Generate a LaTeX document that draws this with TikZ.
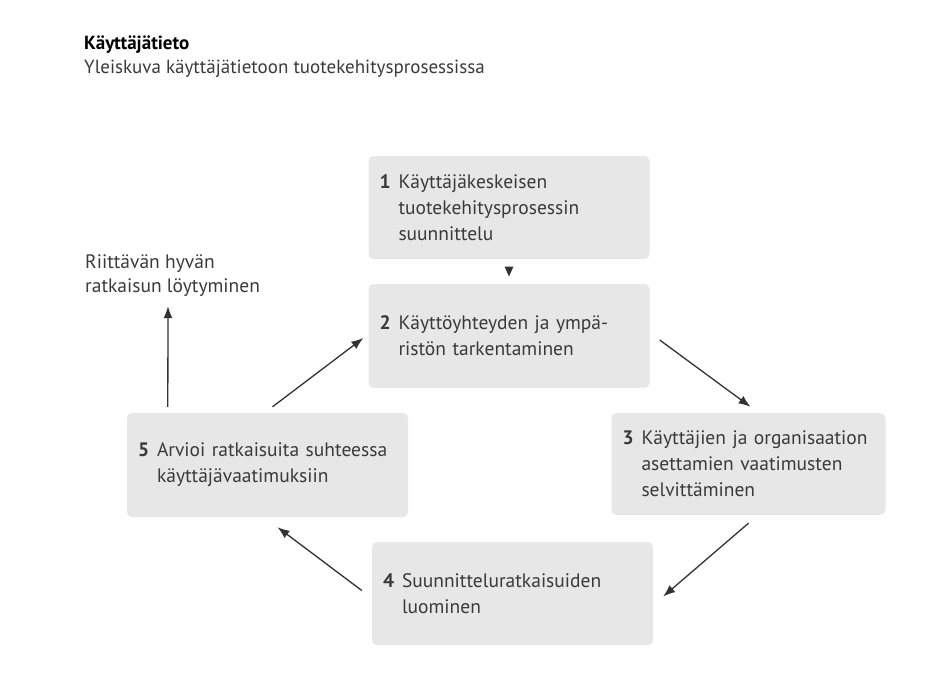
\documentclass[tikz,border=0pt]{standalone}
\usepackage{fontspec}
\setmainfont{PT Sans}
\usepackage{xcolor}
\usetikzlibrary{arrows.meta}
\definecolor{boxgray}{RGB}{231,231,231}
\definecolor{inkgray}{RGB}{58,58,58}
\definecolor{arrowgray}{RGB}{50,50,50}
\newcommand{\numw}{19pt}
\newcommand{\stepno}[1]{\makebox[\numw][l]{\bfseries #1}}

\begin{document}
\begin{tikzpicture}[x=1pt,y=-1pt,line join=round,
    phase/.style={fill=boxgray,rounded corners=5pt,text=inkgray,align=left,
      inner xsep=11pt,inner ysep=0pt,text width=259pt,minimum height=103pt,
      font=\fontsize{19.5}{26}\selectfont},
    flow/.style={draw=arrowgray,line width=1.3pt,-{Latex[length=12pt,width=9pt]}}]
  \path[use as bounding box] (0,0) rectangle (934,680);

  % heading
  \node[anchor=base west,inner sep=0pt,text=black,font=\fontsize{19}{22}\selectfont\bfseries]
    (title) at (84,49) {Käyttäjätieto};
  \node[anchor=base west,inner sep=0pt,text=inkgray,font=\fontsize{19}{22}\selectfont]
    (subtitle) at (84,73) {Yleiskuva käyttäjätietoon tuotekehitysprosessissa};

  % the five phases
  \node[phase] (b1) at (509,207.5)
    {\stepno{1}Käyttäjäkeskeisen\\\hspace*{\numw}tuotekehitysprosessin\\\hspace*{\numw}suunnittelu};
  \node[phase,minimum height=104pt] (b2) at (509,336)
    {\stepno{2}Käyttöyhteyden ja ympä-\\\hspace*{\numw}ristön tarkentaminen};
  \node[phase,text width=252pt,minimum height=102pt] (b3) at (748.5,464)
    {\stepno{3}Käyttäjien ja organisaation\\\hspace*{\numw}asettamien vaatimusten\\\hspace*{\numw}selvittäminen};
  \node[phase] (b4) at (512.5,593.5)
    {\stepno{4}Suunnitteluratkaisuiden\\\hspace*{\numw}luominen};
  \node[phase,minimum height=104pt] (b5) at (267.5,465)
    {\stepno{5}Arvioi ratkaisuita suhteessa\\\hspace*{\numw}käyttäjävaatimuksiin};

  \node[anchor=north west,inner sep=0pt,align=left,text=inkgray,
    font=\fontsize{19.5}{24}\selectfont] (goal) at (85,254)
    {Riittävän hyvän\\ratkaisun löytyminen};

  % connectors
  \path (b1.south) -- (b2.north) coordinate[midway] (m12);
  \fill[arrowgray] ([xshift=-4.5pt,yshift=5pt]m12) -- ([xshift=4.5pt,yshift=5pt]m12)
    -- ([yshift=-5pt]m12) -- cycle;
  \draw[flow] ([xshift=10pt,yshift=-4pt]b2.east) -- ([xshift=2pt,yshift=6pt]b3.north);
  \draw[flow] ([yshift=-8pt]b3.south) -- ([xshift=10pt,yshift=-3pt]b4.east);
  \draw[flow] ([xshift=-10pt,yshift=3pt]b4.west) -- ([xshift=10pt,yshift=-10pt]b5.south);
  \draw[flow] ([xshift=5pt,yshift=6pt]b5.north) -- ([xshift=-5pt,yshift=-2pt]b2.west);
  \draw[flow] ([xshift=41pt,yshift=6pt]b5.north west) -- ([xshift=83pt,yshift=-10pt]goal.south west);
\end{tikzpicture}
\end{document}
